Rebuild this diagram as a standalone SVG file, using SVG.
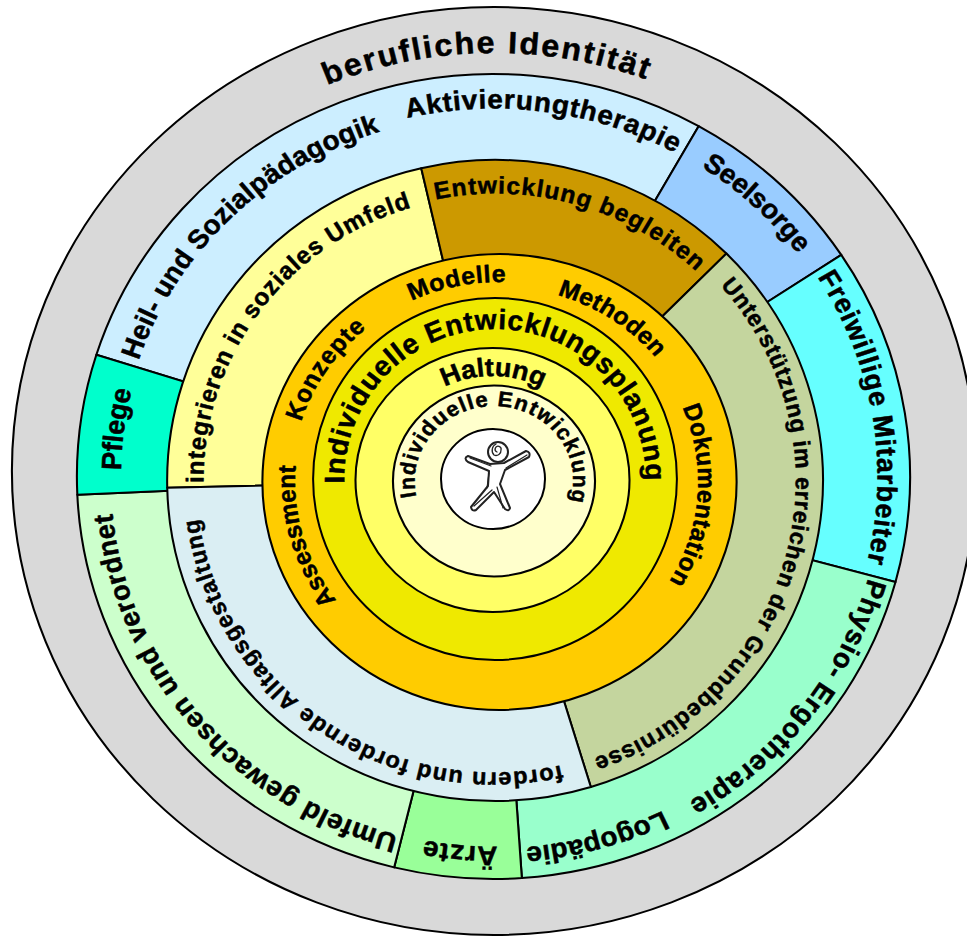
<svg xmlns="http://www.w3.org/2000/svg" xmlns:xlink="http://www.w3.org/1999/xlink" width="967" height="937" viewBox="0 0 967 937">
<style>
.ln{stroke:#000;stroke-width:2;stroke-linejoin:round}
.t{font-family:"Liberation Sans",Arial,sans-serif;font-weight:bold;fill:#000;stroke:#000;stroke-width:0.5;stroke-linejoin:round}
.fo{font-size:27px}
.fm{font-size:24px}
</style>
<defs>
<path id="pBer" d="M-160.6,-385.9 A418,418 0 0 1 147.1,-391.3"/>
<path id="pHeil" d="M-342.9,-116.1 A362,362 0 0 1 -108.2,-345.4"/>
<path id="pAkt" d="M-83.4,-358.4 A368,368 0 0 1 176.7,-322.8"/>
<path id="pSee" d="M201.0,-309.5 A369,369 0 0 1 294.7,-222.1"/>
<path id="pFrei" d="M312.9,-199.3 A371,371 0 0 1 360.8,86.6"/>
<path id="pPhy" d="M362.0,101.7 A376,376 0 0 1 188.0,325.6"/>
<path id="pLogo" d="M163.6,334.1 A372,372 0 0 1 30.5,370.7"/>
<path id="pArz" d="M3.9,370.0 A370,370 0 0 1 -67.4,363.8"/>
<path id="pUmf" d="M-92.0,358.4 A370,370 0 0 1 -368.3,35.5"/>
<path id="pPfl" d="M-359.9,-6.3 A360,360 0 0 1 -349.3,-87.1"/>
<path id="pInt" d="M-285.0,2.5 A285,285 0 0 1 -80.9,-273.3"/>
<path id="pEnt" d="M-58.2,-281.0 A287,287 0 0 1 197.6,-208.2"/>
<path id="pUnt" d="M220.2,-194.8 A294,294 0 0 1 95.7,278.0"/>
<path id="pFor" d="M64.7,284.7 A292,292 0 0 1 -289.6,37.1"/>
<path id="pKon" d="M-190.7,-60.1 A200,200 0 0 1 -127.2,-154.3"/>
<path id="pMod" d="M-84.5,-181.3 A200,200 0 0 1 7.0,-199.9"/>
<path id="pMet" d="M55.4,-187.0 A195,195 0 0 1 150.5,-124.0"/>
<path id="pDok" d="M175.8,-74.6 A191,191 0 0 1 162.8,99.8"/>
<path id="pAss" d="M-156.9,118.3 A196.5,196.5 0 0 1 -195.8,-17.1"/>
<path id="pPlan" d="M-149.9,4.5 A150,150 0 1 1 150.0,3.4"/>
<path id="pHal" d="M-46.1,-93.2 A104,104 0 0 1 48.0,-92.2"/>
<path id="pIE" d="M-73.4,15.6 A75,75 0 1 1 72.0,21.1"/>
</defs>

<g id="berufliche-identitaet" transform="translate(494,471) scale(1.039,1)">
<circle r="464" fill="#d9d9d9" class="ln"/>
<text class="t" font-size="31"><textPath xlink:href="#pBer" textLength="314" lengthAdjust="spacing">berufliche Identität</textPath></text>
</g>

<g id="outer-ring" transform="translate(493.5,476.5) scale(1.035,1)">
<g id="heil-sozialpaedagogik">
<path class="ln" fill="#cceeff" d="M0,0 L-383.7,-121.7 A402.5,402.5 0 0 1 198.2,-350.3 Z"/>
<text class="t fo"><textPath xlink:href="#pHeil" textLength="339" lengthAdjust="spacing">Heil- und Sozialpädagogik</textPath></text>
<text class="t fo"><textPath xlink:href="#pAkt" textLength="267" lengthAdjust="spacing">Aktivierungtherapie</textPath></text>
</g>
<g id="seelsorge">
<path class="ln" fill="#99ccff" d="M0,0 L198.2,-350.3 A402.5,402.5 0 0 1 336.0,-221.6 Z"/>
<text class="t fo"><textPath xlink:href="#pSee" textLength="128" lengthAdjust="spacing">Seelsorge</textPath></text>
</g>
<g id="freiwillige">
<path class="ln" fill="#66ffff" d="M0,0 L336.0,-221.6 A402.5,402.5 0 0 1 388.4,105.5 Z"/>
<text class="t fo"><textPath xlink:href="#pFrei" textLength="297" lengthAdjust="spacing">Freiwillige Mitarbeiter</textPath></text>
</g>
<g id="physio-logopaedie">
<path class="ln" fill="#99ffcc" d="M0,0 L388.4,105.5 A402.5,402.5 0 0 1 27.4,401.6 Z"/>
<text class="t fo"><textPath xlink:href="#pPhy" textLength="290" lengthAdjust="spacing">Physio- Ergotherapie</textPath></text>
<text class="t fo"><textPath xlink:href="#pLogo" textLength="138" lengthAdjust="spacing">Logopädie</textPath></text>
</g>
<g id="aerzte">
<path class="ln" fill="#99ff99" d="M0,0 L27.4,401.6 A402.5,402.5 0 0 1 -96.0,390.9 Z"/>
<text class="t fo"><textPath xlink:href="#pArz" textLength="71" lengthAdjust="spacing">Ärzte</textPath></text>
</g>
<g id="umfeld">
<path class="ln" fill="#ccffcc" d="M0,0 L-96.0,390.9 A402.5,402.5 0 0 1 -402.1,18.3 Z"/>
<text class="t fo"><textPath xlink:href="#pUmf" textLength="451" lengthAdjust="spacing">Umfeld gewachsen und verordnet</textPath></text>
</g>
<g id="pflege">
<path class="ln" fill="#00ffcc" d="M0,0 L-402.1,18.3 A402.5,402.5 0 0 1 -383.7,-121.7 Z"/>
<text class="t" font-size="27"><textPath xlink:href="#pPfl" textLength="81" lengthAdjust="spacing">Pflege</textPath></text>
</g>
</g>

<g id="middle-ring" transform="translate(495,480.5) scale(1.023,1)">
<g id="integrieren">
<path class="ln" fill="#ffff99" d="M0,0 L-320.4,7.3 A320.5,320.5 0 0 1 -72.1,-312.3 Z"/>
<text class="t fm"><textPath xlink:href="#pInt" textLength="367" lengthAdjust="spacing">integrieren in soziales Umfeld</textPath></text>
</g>
<g id="entwicklung-begleiten">
<path class="ln" fill="#cc9900" d="M0,0 L-72.1,-312.3 A320.5,320.5 0 0 1 226.2,-227.0 Z"/>
<text class="t fm"><textPath xlink:href="#pEnt" textLength="275" lengthAdjust="spacing">Entwicklung begleiten</textPath></text>
</g>
<g id="unterstuetzung">
<path class="ln" fill="#c4d59e" d="M0,0 L226.2,-227.0 A320.5,320.5 0 0 1 93.7,306.5 Z"/>
<text class="t" font-size="23" stroke-width="0.2"><textPath xlink:href="#pUnt" textLength="576" lengthAdjust="spacing">Unterstützung im erreichen der Grundbedürnisse</textPath></text>
</g>
<g id="fordern">
<path class="ln" fill="#daeef3" d="M0,0 L93.7,306.5 A320.5,320.5 0 0 1 -320.4,7.3 Z"/>
<text class="t" font-size="23" stroke-width="0.2"><textPath xlink:href="#pFor" textLength="485" lengthAdjust="spacing">fordern und fordernde Alltagsgestaltung</textPath></text>
</g>
</g>

<g id="methoden-ring" transform="translate(499.5,482) scale(1.04,1)">
<circle r="228" fill="#ffcc00" class="ln"/>
<text class="t fm"><textPath xlink:href="#pKon" textLength="114" lengthAdjust="spacing">Konzepte</textPath></text>
<text class="t fm"><textPath xlink:href="#pMod" textLength="93" lengthAdjust="spacing">Modelle</textPath></text>
<text class="t fm"><textPath xlink:href="#pMet" textLength="115" lengthAdjust="spacing">Methoden</textPath></text>
<text class="t fm"><textPath xlink:href="#pDok" textLength="181" lengthAdjust="spacing">Dokumentation</textPath></text>
<text class="t fm"><textPath xlink:href="#pAss" textLength="143" lengthAdjust="spacing">Assessment</textPath></text>
</g>

<g id="entwicklungsplanung" transform="translate(495,479) scale(1.005,1)">
<circle r="181" fill="#efe900" class="ln"/>
<text class="t" font-size="28"><textPath xlink:href="#pPlan" textLength="477" lengthAdjust="spacing">Individuelle Entwicklungsplanung</textPath></text>
</g>

<g id="haltung" transform="translate(492.5,480) scale(1.038,1)">
<circle r="132" fill="#ffff66" class="ln"/>
<text class="t" font-size="26"><textPath xlink:href="#pHal" textLength="97" lengthAdjust="spacing">Haltung</textPath></text>
</g>

<g id="individuelle-entwicklung" transform="translate(494,481) scale(1.058,1)">
<circle r="95.5" fill="#ffffcc" class="ln"/>
<text class="t" font-size="21" stroke-width="0.3"><textPath xlink:href="#pIE" textLength="271" lengthAdjust="spacing">Individuelle Entwicklung</textPath></text>
</g>

<g id="person">
<ellipse cx="493" cy="479" rx="52" ry="50" fill="#ffffff" class="ln"/>
<g fill="none" stroke="#222" stroke-width="2" stroke-linecap="round" stroke-linejoin="round">
<path fill="#ffffff" d="M490,464 L468,456 Q463,458 468,462 L489,471 L488,486 L471,507 Q472,512 476,510 L494,492 L505,509 Q509,512 510,508 L500,484 L505,470 L529,457 Q531,452 526,451 L504,463 Z"/>
<path d="M470,458 L491,466 M489,473 L487,488 M474,506 L492,490 M503,508 L497,487 M506,468 L527,455" stroke-width="1.2"/>
<circle cx="498" cy="452" r="10" fill="#ffffff"/>
<path d="M497,452 a3,3 0 1 1 4,-2 a5,5 0 0 1 -7,5 a7,7 0 0 1 2,-11" stroke-width="1.3"/>
</g>
</g>
</svg>
